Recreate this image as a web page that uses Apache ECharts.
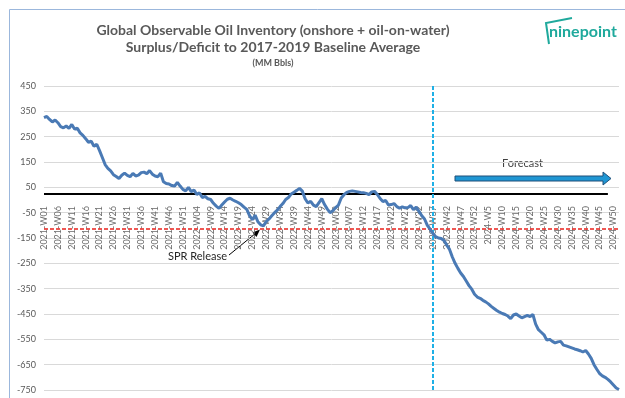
<!DOCTYPE html>
<html>
<head>
<meta charset="utf-8">
<title>Global Observable Oil Inventory</title>
<script src="https://cdn.jsdelivr.net/npm/echarts@6/dist/echarts.min.js"></script>
<style>
    html, body { margin: 0; padding: 0; background: #fff; }
    #chart { width: 625px; height: 398px; }
</style>
</head>
<body>
<div id="chart"></div>
<script>
// weekly surplus/deficit, MM bbls
var years = [2021, 2022, 2023, 2024];
var inv2021 = [325, 330, 318, 308, 316, 305, 290, 285, 292, 283,
    298, 280, 283, 265, 255, 242, 228, 232, 212, 220,
    195, 168, 140, 125, 115, 100, 93, 85, 98, 106,
    97, 92, 105, 95, 98, 108, 110, 104, 116, 102,
    95, 92, 106, 72, 65, 63, 57, 55, 70, 55,
    42, 36];
var inv2022 = [50, 33, 39, 22, 28, 10, 14, 5, 2, -13,
    -24, -33, -20, -8, 3, 7, 0, -5, -11, -18,
    -28, -37, -62, -78, -60, -86, -98, -102, -85, -75,
    -62, -50, -40, -26, -14, 2, 10, 24, 31, 38,
    46, 35, 5, -12, -5, -20, -26, -10, 5, -18,
    -36, -50];
var inv2023 = [-42, -30, -20, 8, 21, 30, 34, 36, 34, 32,
    30, 29, 26, 21, 32, 34, 22, 6, -6, -2,
    -20, -18, -14, -26, -32, -27, -31, -30, -22, -38,
    -28, -45, -62, -75, -100, -115, -132, -145, -150, -152,
    -160, -178, -195, -225, -250, -270, -288, -302, -320, -338,
    -352, -372];
var inv2024 = [-383, -388, -396, -402, -410, -420, -428, -436, -443, -448,
    -452, -458, -468, -454, -450, -458, -465, -460, -455, -460,
    -452, -490, -512, -522, -532, -553, -550, -558, -564, -560,
    -558, -573, -576, -580, -584, -588, -591, -595, -600, -594,
    -608, -625, -650, -668, -685, -694, -700, -708, -718, -730,
    -742, -748];
var yTicks = [450, 350, 250, 150, 50, -50, -150, -250, -350, -450, -550, -650, -750];
var zeroLine = 25;        // black line
var baselineLine = -115;  // red dashed line
var forecastStart = '2023-W37';
var blackLineEnd = '2024-W48';

var categories = [];
years.forEach(function (yr) {
    for (var w = 1; w <= 52; w++) {
        // 2024 weeks are written without the leading zero
        categories.push(yr + '-W' + (yr < 2024 && w < 10 ? '0' + w : w));
    }
});
var values = inv2021.concat(inv2022, inv2023, inv2024);

var txt = '#595959';
var font = 'Lato, "Open Sans", sans-serif';

var chart = echarts.init(document.getElementById('chart'));
chart.setOption({
    animation: false,
    textStyle: { fontFamily: font },
    title: {
        text: 'Global Observable Oil Inventory (onshore + oil-on-water)\nSurplus/Deficit to 2017-2019 Baseline Average',
        subtext: '(MM Bbls)',
        left: 268,
        top: 17,
        textAlign: 'center',
        itemGap: 3,
        textStyle: { fontSize: 14, fontWeight: 'bold', color: txt, lineHeight: 17, fontFamily: font },
        subtextStyle: { fontSize: 9, fontWeight: 'bold', color: txt, fontFamily: font }
    },
    grid: { left: 44, right: 6, top: 86, bottom: 8, outerBoundsMode: 'none', containLabel: false },
    xAxis: {
        type: 'category',
        data: categories,
        boundaryGap: false,
        // the category labels hang just under the zero level of the value axis
        offset: -190,
        axisLine: { show: false, onZero: false },
        axisTick: { show: false },
        axisLabel: { interval: 4, rotate: 90, fontSize: 9, color: '#6a6a6a', margin: 6 },
        splitLine: { show: false }
    },
    yAxis: {
        type: 'value',
        min: -750,
        max: 450,
        axisLine: { show: false },
        axisTick: { show: false, customValues: yTicks },
        axisLabel: { fontSize: 9, color: txt, margin: 8, customValues: yTicks },
        splitLine: { show: true, lineStyle: { color: '#d9d9d9', width: 1 } }
    },
    series: [{
        type: 'line',
        data: values,
        showSymbol: false,
        lineStyle: { color: '#4a7ab5', width: 3 },
        z: 5,
        markLine: {
            silent: true,
            symbol: ['none', 'none'],
            label: { show: false },
            data: [
                [{ coord: [0, zeroLine], lineStyle: { color: '#000', width: 2, type: 'solid' } },
                 { coord: [blackLineEnd, zeroLine] }],
                { yAxis: baselineLine, lineStyle: { color: '#e8221c', width: 1.5, type: [4, 2] } },
                { xAxis: forecastStart, lineStyle: { color: '#1fb0e6', width: 2, type: [4, 2] } }
            ]
        }
    }],
    graphic: [
        // outer frame
        { type: 'rect', shape: { x: 9.5, y: 9.5, width: 700, height: 500 },
          style: { fill: 'none', stroke: '#9bb7dc', lineWidth: 1 }, silent: true },
        // logo
        { type: 'polyline', shape: { points: [[549, 44], [546, 23], [572, 18]] },
          style: { stroke: '#1fa99c', lineWidth: 2, fill: 'none' } },
        { type: 'text', left: 549, top: 24,
          style: { text: 'ninepoint', fill: '#1fa99c', font: 'bold 16px ' + font } },
        // forecast arrow
        { type: 'polygon', shape: { points: [[455, 176], [603, 176], [603, 172], [611, 178.5], [603, 185], [603, 181], [455, 181]] },
          style: { fill: '#1f96d3', stroke: '#1f4e79', lineWidth: 1 } },
        { type: 'text', left: 502, top: 158,
          style: { text: 'Forecast', fill: '#404040', font: '11px ' + font } },
        // SPR release note
        { type: 'text', left: 168, top: 251,
          style: { text: 'SPR Release', fill: '#262626', font: '11px ' + font } },
        { type: 'line', shape: { x1: 229, y1: 255, x2: 256, y2: 233 },
          style: { stroke: '#000', lineWidth: 1 } },
        { type: 'polygon', shape: { points: [[260, 229.5], [252.5, 232.5], [256.5, 237]] },
          style: { fill: '#000' } }
    ]
});
</script>
</body>
</html>
